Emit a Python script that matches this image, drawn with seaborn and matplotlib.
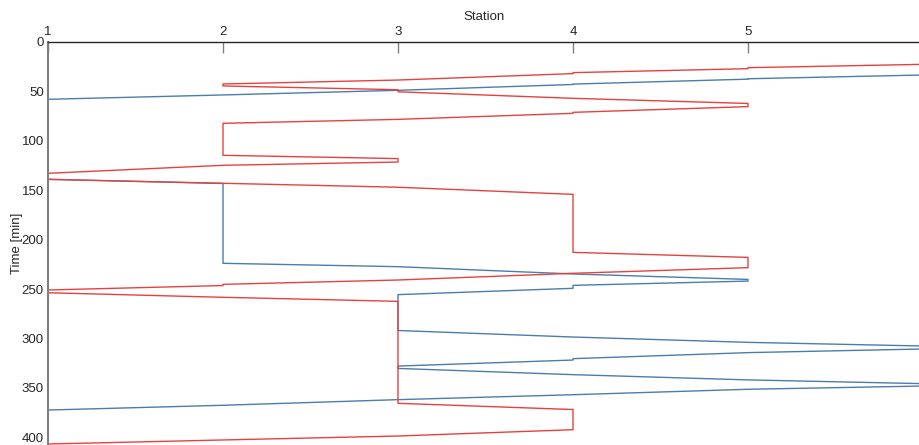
import pandas as pd
import numpy as np
import matplotlib.pyplot as plt
import seaborn as sns

# train paths: station number and time in minutes
blue_station = [6, 5, 5, 4, 4, 3, 2, 1, 1, 2, 2, 3, 4, 5, 5, 4, 4, 3, 3, 4, 5, 6,
                6, 5, 4, 4, 3, 3, 4, 5, 6, 6, 5, 4, 3, 2, 1]
blue_time = [33.4, 37.2, 37.6, 42.6, 43.0, 48.9, 53.6, 58.0, 139.0, 143.2, 224.0,
             227.4, 234.8, 240.3, 242.0, 246.3, 249.3, 255.7, 292.0, 298.6, 304.0,
             307.7, 310.7, 314.4, 320.5, 321.9, 328.0, 330.4, 336.7, 342.0, 345.8,
             348.2, 351.5, 357.0, 362.0, 367.7, 372.5]

red_station = [6, 5, 5, 4, 4, 3, 2, 2, 3, 3, 4, 5, 5, 4, 4, 3, 2, 2, 3, 3, 2, 1,
               1, 2, 3, 4, 4, 5, 5, 4, 3, 2, 2, 1, 1, 2, 3, 3, 4, 4, 3, 2, 1]
red_time = [22.6, 26.0, 27.0, 31.0, 32.0, 38.5, 42.5, 44.5, 48.3, 50.4, 57.0,
            62.2, 65.4, 71.2, 72.2, 78.3, 82.3, 114.7, 118.0, 121.5, 124.8, 132.9,
            139.0, 143.0, 147.0, 154.2, 212.9, 218.0, 228.4, 234.1, 240.9, 245.3,
            246.5, 251.0, 253.8, 258.4, 262.5, 365.7, 372.0, 392.4, 398.8, 402.8,
            406.9]

station_ticks = [1, 2, 3, 4, 5]
time_ticks = [0, 50, 100, 150, 200, 250, 300, 350, 400]

df = pd.concat([
    pd.DataFrame({'Station': blue_station, 'Time': blue_time, 'train': 'blue',
                  'order': np.arange(len(blue_time))}),
    pd.DataFrame({'Station': red_station, 'Time': red_time, 'train': 'red',
                  'order': np.arange(len(red_time))}),
], ignore_index=True)

sns.set_style('white')
plt.rcParams['font.family'] = ['Liberation Sans', 'DejaVu Sans']

fig = plt.figure(figsize=(9.2, 4.45), dpi=100)
ax = fig.add_axes([48 / 920, 0.0, 1 - 48 / 920, 1 - 42 / 445])

sns.lineplot(data=df, x='Station', y='Time', hue='train', units='train',
             estimator=None, sort=False, palette={'blue': '#4a7dab', 'red': '#e8403f'},
             linewidth=1.0, legend=False, ax=ax)

ax.set_xlim(1, 1 + (920 - 48) / 175)
ax.set_ylim((445 - 42) / 0.988, 0)
ax.set_xticks(station_ticks)
ax.set_yticks(time_ticks)
ax.xaxis.tick_top()
ax.xaxis.set_label_position('top')
ax.set_xlabel('Station', fontsize=9.5, color='#262626', labelpad=4)
ax.set_ylabel('Time [min]', fontsize=9.5, color='#262626')
ax.yaxis.set_label_coords(-25 / 872, 0.5)

for side in ['right', 'bottom']:
    ax.spines[side].set_visible(False)
ax.spines['top'].set_color('#262626')
ax.spines['top'].set_linewidth(1.0)
ax.spines['left'].set_color('#808080')
ax.spines['left'].set_linewidth(1.5)
ax.tick_params(axis='x', direction='in', length=8, width=1, color='#808080',
               labelsize=9.5, labelcolor='#262626', pad=3, top=True, bottom=False)
ax.tick_params(axis='y', direction='in', length=8, width=1, color='#262626',
               labelsize=9.5, labelcolor='#262626', pad=3)

plt.savefig('out.png', dpi=100)
